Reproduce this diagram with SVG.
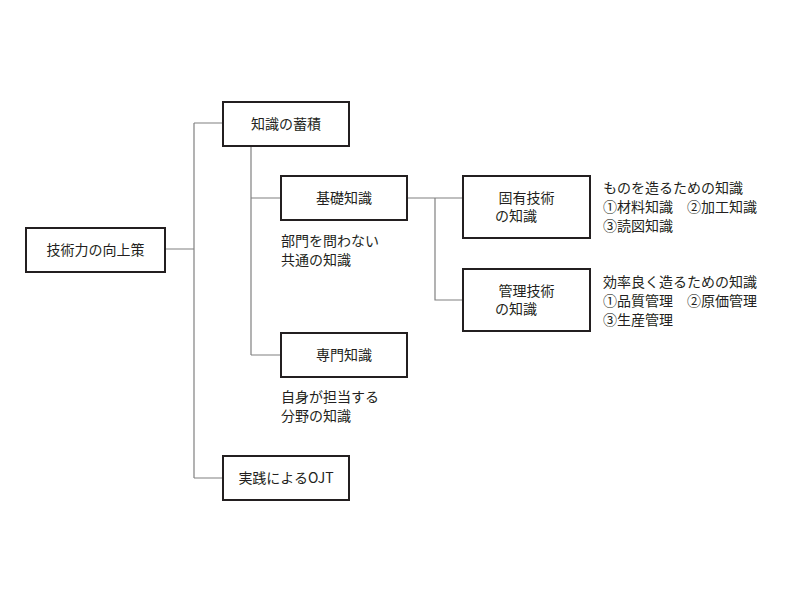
<svg xmlns="http://www.w3.org/2000/svg" width="800" height="600" viewBox="0 0 800 600">
<style>
.b{fill:#fff;stroke:#231f20;stroke-width:2}
.t{font-family:"Noto Sans CJK JP",sans-serif;font-size:14px;fill:#231f20}
.c{fill:none;stroke:#808080;stroke-width:1.2}
</style>
<rect width="800" height="600" fill="#fff"/>
<g id="connectors" class="c">
<path d="M165 249H194M194 123V478M194 123H223M194 478H223"/>
<path d="M251 146V355M251 198H281M251 355H281"/>
<path d="M407 198H463M435 198V300H463"/>
</g>
<g id="root"><rect class="b" x="26" y="228" width="139" height="44"/><text class="t" x="95.5" y="255" text-anchor="middle">技術力の向上策</text></g>
<g id="n1"><rect class="b" x="223" y="102" width="126" height="44"/><text class="t" x="286" y="129" text-anchor="middle">知識の蓄積</text></g>
<g id="n2"><rect class="b" x="281" y="176" width="126" height="44"/><text class="t" x="344" y="203" text-anchor="middle">基礎知識</text>
<text class="t" x="281" y="246">部門を問わない</text><text class="t" x="281" y="265">共通の知識</text></g>
<g id="n3"><rect class="b" x="463" y="176" width="127" height="62"/><text class="t" x="526.5" y="203" text-anchor="middle">固有技術</text><text class="t" x="516" y="221" text-anchor="middle">の知識</text>
<text class="t" x="603" y="193">ものを造るための知識</text><text class="t" x="603" y="212">①材料知識　②加工知識</text><text class="t" x="603" y="231">③読図知識</text></g>
<g id="n4"><rect class="b" x="463" y="269" width="127" height="62"/><text class="t" x="526.5" y="296" text-anchor="middle">管理技術</text><text class="t" x="516" y="314" text-anchor="middle">の知識</text>
<text class="t" x="603" y="287">効率良く造るための知識</text><text class="t" x="603" y="306">①品質管理　②原価管理</text><text class="t" x="603" y="325">③生産管理</text></g>
<g id="n5"><rect class="b" x="281" y="333" width="126" height="44"/><text class="t" x="344" y="360" text-anchor="middle">専門知識</text>
<text class="t" x="281" y="402">自身が担当する</text><text class="t" x="281" y="421">分野の知識</text></g>
<g id="n6"><rect class="b" x="223" y="456" width="126" height="44"/><text class="t" x="286" y="483" text-anchor="middle">実践によるOJT</text></g>
</svg>
